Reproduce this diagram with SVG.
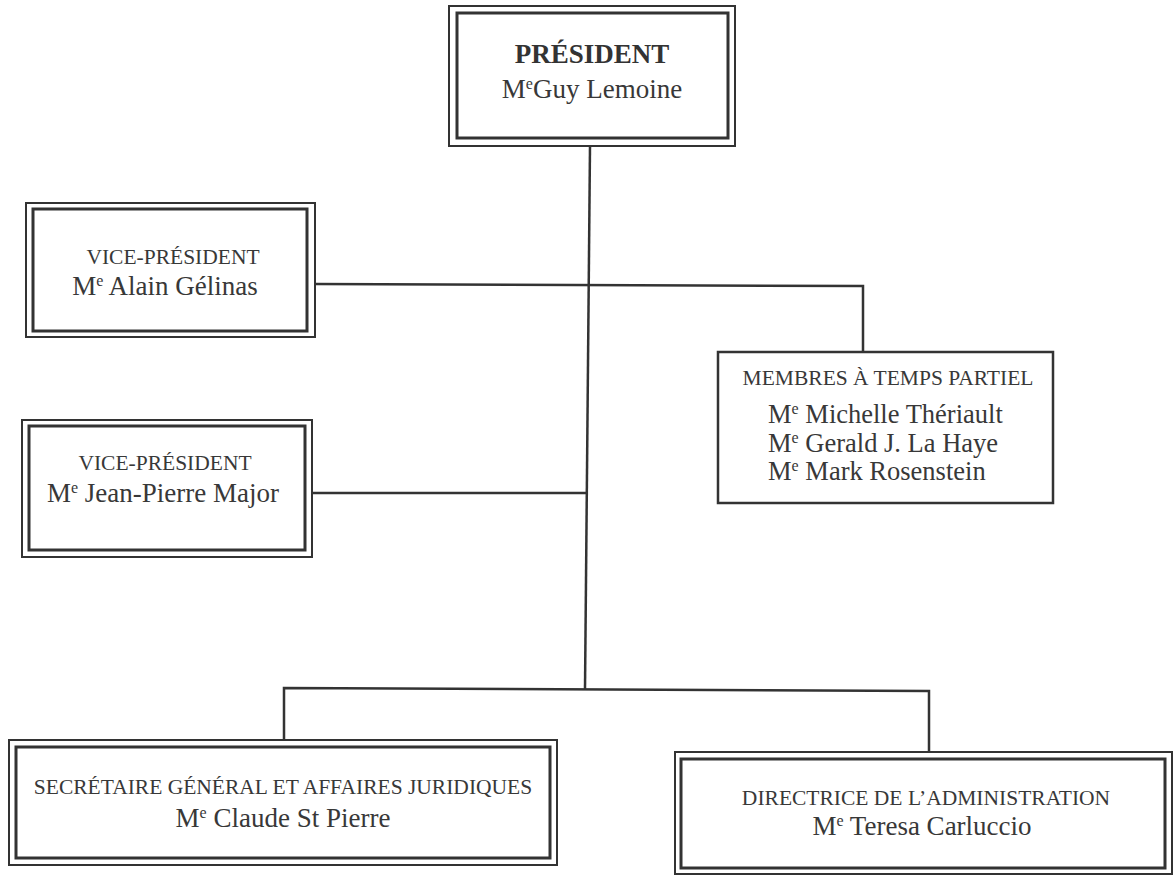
<svg xmlns="http://www.w3.org/2000/svg" width="1175" height="876" viewBox="0 0 1175 876">
<style>
.o{fill:none;stroke:#333;stroke-width:2}
.i{fill:none;stroke:#333;stroke-width:3}
.s{fill:#fff;stroke:#333;stroke-width:2.5}
.t{font-family:"Liberation Serif",serif;font-size:21.5px;fill:#383838;text-anchor:middle}
.n{font-family:"Liberation Serif",serif;font-size:27px;fill:#383838;text-anchor:middle}
.nl{font-family:"Liberation Serif",serif;font-size:26.5px;fill:#383838}
.b{font-family:"Liberation Serif",serif;font-size:27px;font-weight:bold;fill:#333;text-anchor:middle}
.sup{font-size:16px}
.c{fill:none;stroke:#333;stroke-width:2.5}
</style>
<rect width="1175" height="876" fill="#fff"/>
<g id="connectors">
<line class="c" x1="590" y1="146" x2="585" y2="689"/>
<polyline class="c" points="315,284 863,286 863,352"/>
<line class="c" x1="312" y1="493" x2="587" y2="493"/>
<polyline class="c" points="284,740 284,688 929,691 929,752"/>
</g>
<g id="president">
<rect class="o" x="449" y="6" width="286" height="140"/>
<rect class="i" x="457" y="13" width="271" height="125"/>
<text class="b" x="592" y="63">PRÉSIDENT</text>
<text class="n" x="592" y="98">M<tspan class="sup" dy="-9">e</tspan><tspan dy="9">Guy Lemoine</tspan></text>
</g>
<g id="vp1">
<rect class="o" x="26" y="203" width="289" height="134"/>
<rect class="i" x="33" y="209" width="274" height="122"/>
<text class="t" x="173" y="264">VICE-PRÉSIDENT</text>
<text class="n" x="165" y="295">M<tspan class="sup" dy="-9">e</tspan><tspan dy="9"> Alain Gélinas</tspan></text>
</g>
<g id="vp2">
<rect class="o" x="22" y="420" width="290" height="137"/>
<rect class="i" x="29" y="426" width="276" height="124"/>
<text class="t" x="165" y="470">VICE-PRÉSIDENT</text>
<text class="n" x="163" y="502">M<tspan class="sup" dy="-9">e</tspan><tspan dy="9"> Jean-Pierre Major</tspan></text>
</g>
<g id="membres">
<rect class="s" x="718" y="352" width="335" height="151"/>
<text class="t" x="888" y="385">MEMBRES À TEMPS PARTIEL</text>
<text class="nl" x="768" y="423">M<tspan class="sup" dy="-9">e</tspan><tspan dy="9"> Michelle Thériault</tspan></text>
<text class="nl" x="768" y="452">M<tspan class="sup" dy="-9">e</tspan><tspan dy="9"> Gerald J. La Haye</tspan></text>
<text class="nl" x="768" y="480">M<tspan class="sup" dy="-9">e</tspan><tspan dy="9"> Mark Rosenstein</tspan></text>
</g>
<g id="secretaire">
<rect class="o" x="9" y="740" width="548" height="125"/>
<rect class="i" x="16" y="747" width="534" height="111"/>
<text class="t" x="283" y="794">SECRÉTAIRE GÉNÉRAL ET AFFAIRES JURIDIQUES</text>
<text class="n" x="283" y="827">M<tspan class="sup" dy="-9">e</tspan><tspan dy="9"> Claude St Pierre</tspan></text>
</g>
<g id="directrice">
<rect class="o" x="675" y="752" width="497" height="122"/>
<rect class="i" x="681" y="759" width="484" height="109"/>
<text class="t" x="926" y="805">DIRECTRICE DE L’ADMINISTRATION</text>
<text class="n" x="922" y="835">M<tspan class="sup" dy="-9">e</tspan><tspan dy="9"> Teresa Carluccio</tspan></text>
</g>
</svg>
